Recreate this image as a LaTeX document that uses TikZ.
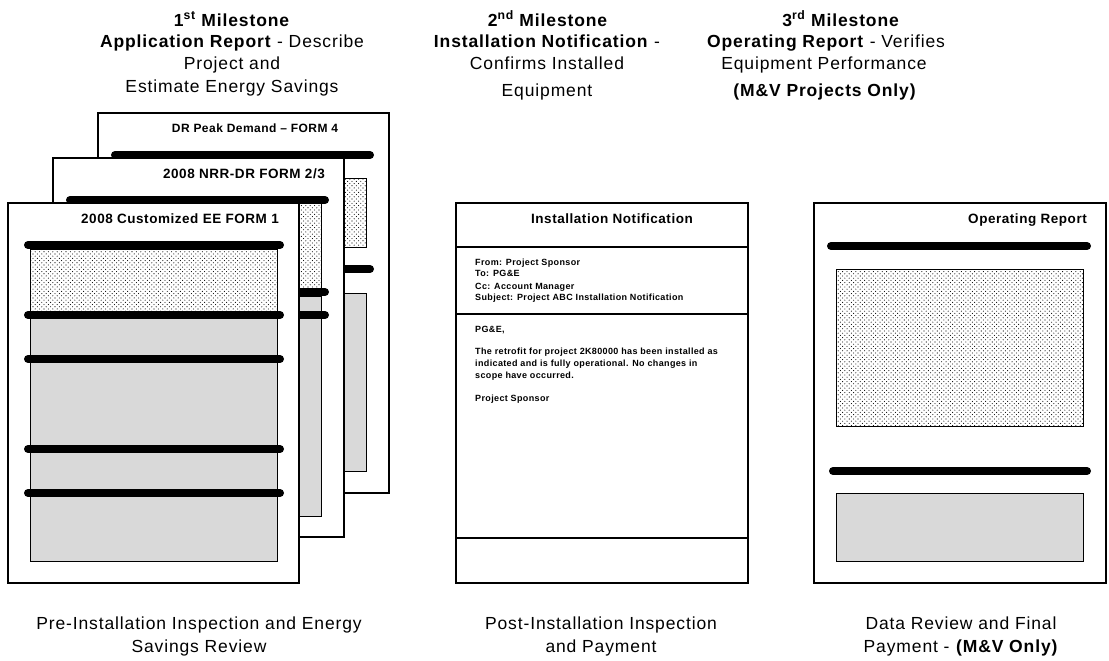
\documentclass[tikz,border=0pt]{standalone}
\usepackage{fontspec}
\setmainfont{Liberation Sans}
\newfontfamily\widefont[LetterSpace=5]{Liberation Sans}
\newfontfamily\midfont[LetterSpace=4]{Liberation Sans}
\usetikzlibrary{patterns}
\pgfdeclarepatternformonly{mydots}{\pgfqpoint{-1pt}{-1pt}}{\pgfqpoint{4pt}{4pt}}{\pgfqpoint{4.4pt}{4.4pt}}{%
  \pgfpathcircle{\pgfqpoint{0pt}{0pt}}{.55pt}%
  \pgfpathcircle{\pgfqpoint{2.2pt}{2.2pt}}{.55pt}%
  \pgfusepath{fill}}
\begin{document}
\begin{tikzpicture}[x=1pt,y=-1pt,
  page/.style={draw=black, line width=1.4pt, fill=white},
  bar/.style={line width=8pt, line cap=round},
  dotbox/.style={draw=black, line width=1pt, pattern=mydots, pattern color=black},
  graybox/.style={draw=black, line width=1pt, fill=black!15},
  head/.style={font=\widefont\fontsize{17.5}{20}\selectfont, inner sep=0pt, text height=12pt, text depth=3.5pt},
  ptitle/.style={font=\midfont\fontsize{13.5}{15}\selectfont\bfseries, inner sep=0pt, text height=10pt, text depth=2.5pt},
  mail/.style={font=\midfont\fontsize{9}{10}\selectfont\bfseries, inner sep=0pt, anchor=west, text height=6.5pt, text depth=2pt},
]
\useasboundingbox (0,0) rectangle (1109,661);

% ---------- headings ----------
\node[head] (h1a) at (232,22) {\textbf{1\textsuperscript{st} Milestone}};
\node[head] (h1b) at (232,43) {\textbf{Application Report} - Describe};
\node[head] (h1c) at (232,65) {Project and};
\node[head] (h1d) at (232,88) {Estimate Energy Savings};

\node[head] (h2a) at (548,22) {\textbf{2\textsuperscript{nd} Milestone}};
\node[head] (h2b) at (547,43) {\textbf{Installation Notification} -};
\node[head] (h2c) at (547,65) {Confirms Installed};
\node[head] (h2d) at (547,92) {Equipment};

\node[head] (h3a) at (841,22) {\textbf{3\textsuperscript{rd} Milestone}};
\node[head] (h3b) at (826,43) {\textbf{Operating Report} - Verifies};
\node[head] (h3c) at (824,65) {Equipment Performance};
\node[head] (h3d) at (825,92) {\textbf{(M\&V Projects Only)}};

% ---------- stack of forms (back to front) ----------
% form 4
\draw[page] (98,113) rectangle (389,493);
\node[ptitle, font=\midfont\fontsize{12}{14}\selectfont\bfseries] (t4) at (255,129) {DR Peak Demand \textendash{} FORM 4};
\draw[bar] (115,155) -- (370,155);
\draw[dotbox] (115,178) rectangle (366,247);
\draw[bar] (115,269) -- (370,269);
\draw[graybox] (115,293) rectangle (366,471);

% form 2/3
\draw[page] (53,158) rectangle (344,537);
\node[ptitle] (t23) at (244,175) {2008 NRR-DR FORM 2/3};
\draw[dotbox] (72,203) rectangle (321,288);
\draw[graybox] (72,296) rectangle (321,516);
\draw[bar] (70,200) -- (325,200);
\draw[bar] (70,292) -- (325,292);
\draw[bar] (70,315) -- (325,315);

% form 1
\draw[page] (8,203) rectangle (299,583);
\node[ptitle] (t1) at (180,220) {2008 Customized EE FORM 1};
\draw[dotbox] (30,249) rectangle (277,313);
\draw[graybox] (30,318) rectangle (277,561);
\draw[bar] (28,245) -- (280,245);
\draw[bar] (28,315) -- (280,315);
\draw[bar] (28,359) -- (280,359);
\draw[bar] (28,449) -- (280,449);
\draw[bar] (28,493) -- (280,493);

% ---------- installation notification ----------
\draw[page] (456,203) rectangle (748,583);
\draw[line width=1.4pt] (456,247) -- (748,247);
\draw[line width=1.4pt] (456,314) -- (748,314);
\draw[line width=1.4pt] (456,538) -- (748,538);
\node[ptitle] (tin) at (612,220) {Installation Notification};
\node[mail] (m1) at (475,263) {From: Project Sponsor};
\node[mail] (m2) at (475,274) {To: PG\&E};
\node[mail] (m3) at (475,287) {Cc: Account Manager};
\node[mail] (m4) at (475,298) {Subject: Project ABC Installation Notification};
\node[mail] (b1) at (475,330) {PG\&E,};
\node[mail] (b2) at (475,352) {The retrofit for project 2K80000 has been installed as};
\node[mail] (b3) at (475,364) {indicated and is fully operational. No changes in};
\node[mail] (b4) at (475,376) {scope have occurred.};
\node[mail] (b5) at (475,399) {Project Sponsor};

% ---------- operating report ----------
\draw[page] (814,203) rectangle (1106,583);
\node[ptitle, anchor=east] (top) at (1087,220) {Operating Report};
\draw[bar] (831,246) -- (1087,246);
\draw[dotbox] (836,269) rectangle (1083,426);
\draw[bar] (833,471) -- (1087,471);
\draw[graybox] (836,493) rectangle (1083,561);

% ---------- captions ----------
\node[head] (c1a) at (199,625) {Pre-Installation Inspection and Energy};
\node[head] (c1b) at (199,648) {Savings Review};
\node[head] (c2a) at (601,625) {Post-Installation Inspection};
\node[head] (c2b) at (601,648) {and Payment};
\node[head] (c3a) at (961,625) {Data Review and Final};
\node[head] (c3b) at (961,648) {Payment - \textbf{(M\&V Only)}};
\end{tikzpicture}
\end{document}
